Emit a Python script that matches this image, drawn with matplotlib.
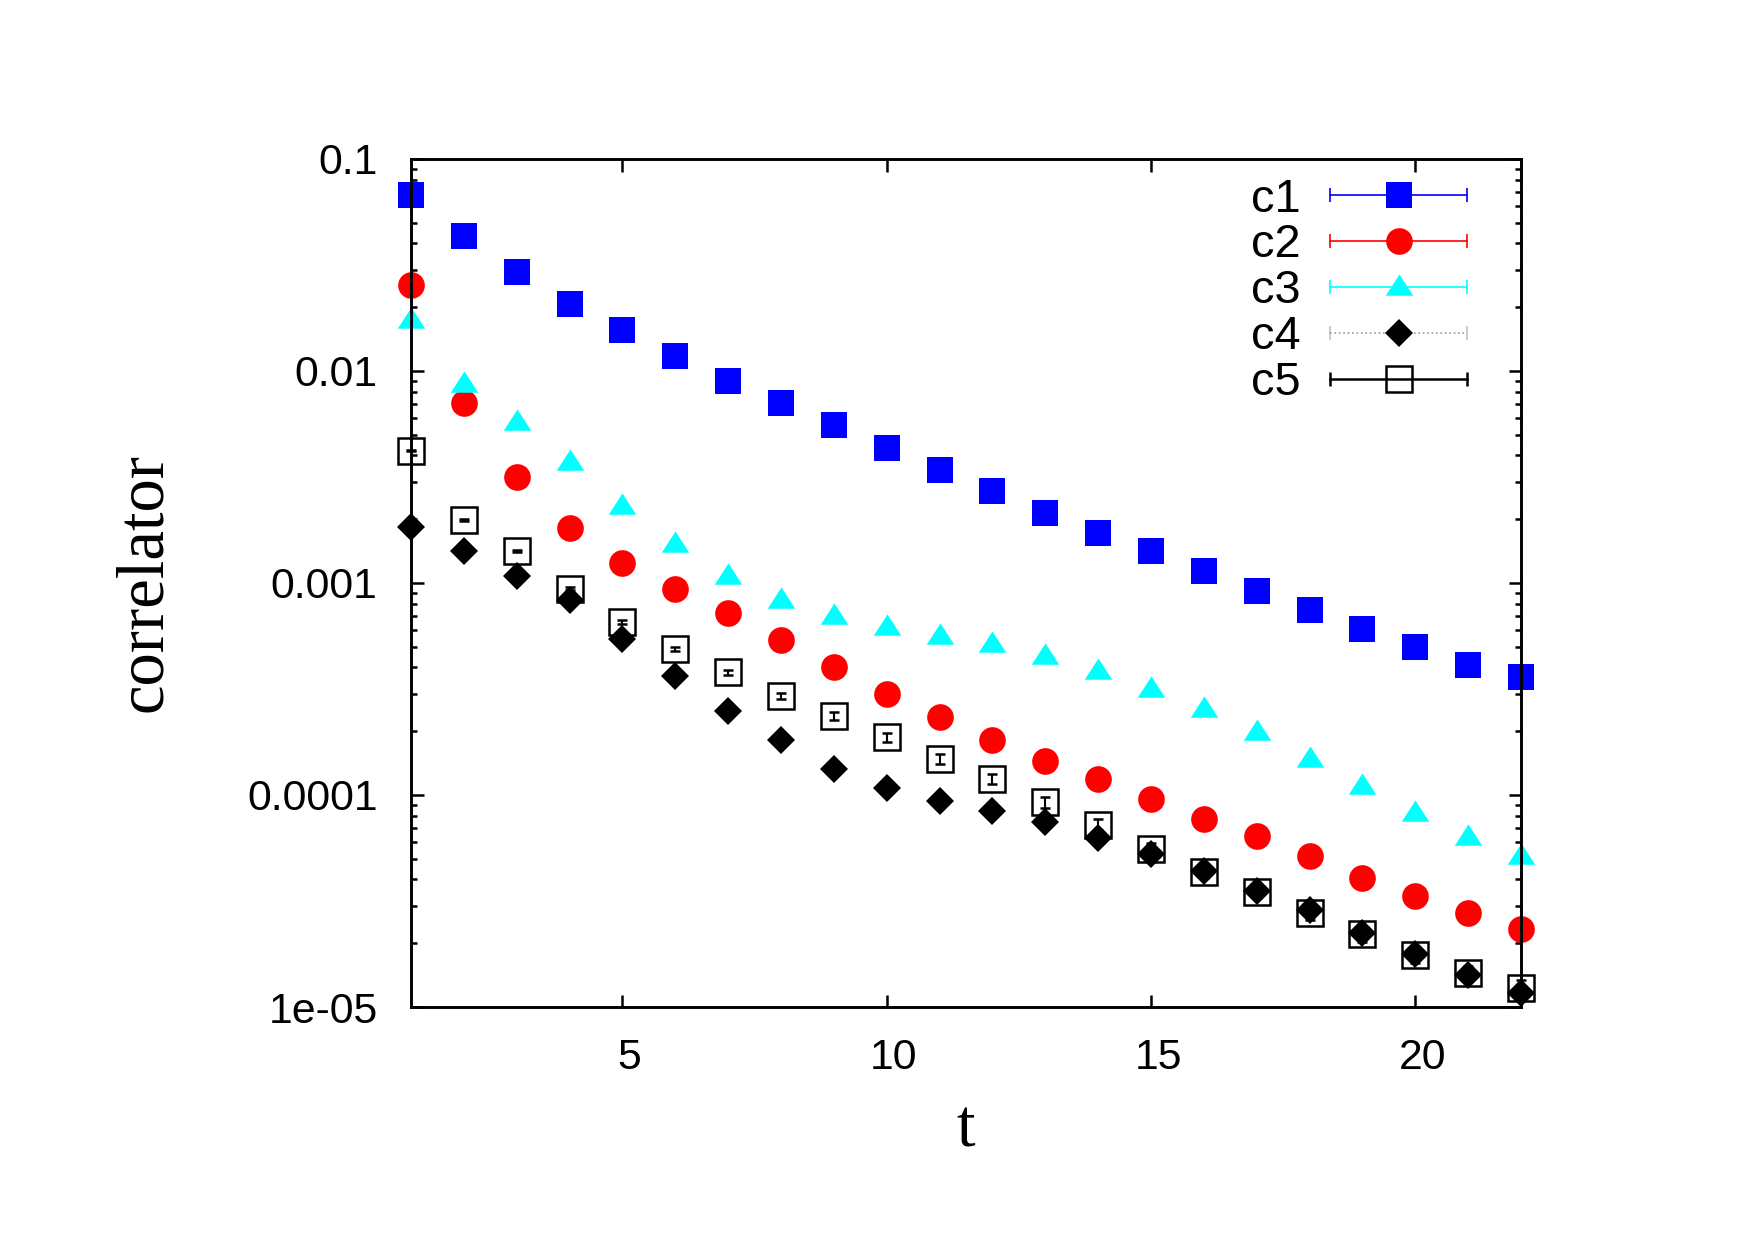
#!/usr/bin/env python3
"""Correlators c1..c5 vs t on a log scale, gnuplot look."""

import matplotlib
matplotlib.use("Agg")
import matplotlib.pyplot as plt
from matplotlib.legend_handler import HandlerBase
from matplotlib.lines import Line2D
from matplotlib.ticker import FixedLocator, FuncFormatter, LogLocator, NullFormatter
from matplotlib.transforms import ScaledTranslation

plt.rcParams.update({
    "font.family": ["Liberation Sans", "DejaVu Sans"],
    "font.size": 20.5,
    "axes.linewidth": 1.4,
})

t = list(range(1, 23))

c1 = [0.0678, 0.0433, 0.0293, 0.0208, 0.0156, 0.0118, 0.00901, 0.00708, 0.00555, 0.00435, 0.00341,
      0.00271, 0.00215, 0.00173, 0.00141, 0.00114, 0.000918, 0.000747, 0.000608, 0.000500, 0.000412, 0.000360]
c2 = [0.0254, 0.00708, 0.00317, 0.00181, 0.00124, 0.000941, 0.000721, 0.000538, 0.000402, 0.000300, 0.000233,
      0.000182, 0.000145, 0.000119, 9.59e-5, 7.71e-5, 6.42e-5, 5.16e-5, 4.04e-5, 3.33e-5, 2.77e-5, 2.34e-5]
c3 = [0.0174, 0.0087, 0.00575, 0.00371, 0.00231, 0.00153, 0.00108, 0.000834, 0.000695, 0.000622, 0.000565,
      0.000513, 0.000454, 0.000383, 0.000315, 0.000254, 0.000199, 0.000148, 0.000110, 8.19e-5, 6.34e-5, 5.16e-5]
c4 = [0.00184, 0.00141, 0.00108, 0.000834, 0.000544, 0.000365, 0.000250, 0.000182, 0.000133, 0.000108, 9.35e-5,
      8.38e-5, 7.42e-5, 6.26e-5, 5.28e-5, 4.40e-5, 3.54e-5, 2.88e-5, 2.23e-5, 1.77e-5, 1.41e-5, 1.16e-5]
c5 = [0.00420, 0.00198, 0.00141, 0.000941, 0.000654, 0.000489, 0.000379, 0.000293, 0.000236, 0.000187, 0.000148,
      0.000119, 9.24e-5, 7.25e-5, 5.55e-5, 4.35e-5, 3.50e-5, 2.77e-5, 2.20e-5, 1.75e-5, 1.44e-5, 1.23e-5]
c5_err = [2.1e-5, 2.0e-5, 1.7e-5, 1.4e-5, 1.3e-5, 1.2e-5, 1.1e-5, 1.0e-5, 9.4e-6, 8.4e-6, 7.4e-6,
          6.0e-6, 5.1e-6, 4.4e-6, 3.6e-6, 3.0e-6, 2.5e-6, 2.1e-6, 1.8e-6, 1.4e-6, 1.2e-6, 1.1e-6]

x_ticks = [5, 10, 15, 20]
y_ticks = [1e-5, 1e-4, 1e-3, 1e-2, 1e-1]

# gnuplot-like flat triangle
TRI = [(-1.0, -0.6), (1.0, -0.6), (0.0, 0.95)]


class HandlerGnuplot(HandlerBase):
    """Legend sample: horizontal bar with end caps and the point in the middle."""

    def create_artists(self, legend, orig_handle, xdescent, ydescent,
                       width, height, fontsize, trans):
        y = height / 2 - ydescent
        x0, x1 = -xdescent, width - xdescent
        color = orig_handle.get_color()
        lw = orig_handle.get_linewidth()
        ls = orig_handle.get_linestyle()
        bar = Line2D([x0, x1], [y, y], color=color, linewidth=lw, linestyle=ls)
        caps = Line2D([x0, x1], [y, y], linestyle="none", marker="|",
                      markersize=6.5, markeredgewidth=lw, color=color,
                      alpha=0.6 if ls == ":" else 1.0)
        mark = Line2D([(x0 + x1) / 2], [y], linestyle="none",
                      marker=orig_handle.get_marker(),
                      markersize=orig_handle.get_markersize(),
                      markerfacecolor=orig_handle.get_markerfacecolor(),
                      markeredgecolor=orig_handle.get_markeredgecolor(),
                      markeredgewidth=orig_handle.get_markeredgewidth())
        for a in (bar, caps, mark):
            a.set_transform(trans)
        return [bar, caps, mark]


fig = plt.figure(figsize=(11.7, 1240 / 150), dpi=150)
ax = fig.add_axes([0.2342, 0.1879, 0.6325, 0.6839])

ax.plot(t, c1, linestyle="none", marker="s", markersize=12.5, color="#0000ff",
        markeredgewidth=0, clip_on=False)
ax.plot(t, c2, linestyle="none", marker="o", markersize=12.8, color="#ff0000",
        markeredgewidth=0, clip_on=False)
ax.plot(t, c3, linestyle="none", marker=TRI, markersize=13.2, color="#00ffff",
        markeredgewidth=0, clip_on=False)
ax.plot(t, c4, linestyle="none", marker="D", markersize=9.2, color="black",
        markeredgewidth=0, clip_on=False)
ax.errorbar(t, c5, yerr=c5_err, fmt="s", markersize=12.5, markerfacecolor="none",
            markeredgecolor="black", markeredgewidth=1.2, ecolor="black",
            elinewidth=1.0, capsize=2.5, capthick=1.0, clip_on=False)

ax.set_yscale("log")
ax.set_xlim(1, 22)
ax.set_ylim(1e-5, 0.1)

ax.xaxis.set_major_locator(FixedLocator(x_ticks))
ax.yaxis.set_major_locator(FixedLocator(y_ticks))
ax.yaxis.set_major_formatter(FuncFormatter(lambda v, _: f"{v:g}"))
ax.yaxis.set_minor_locator(LogLocator(base=10, subs=range(2, 10)))
ax.yaxis.set_minor_formatter(NullFormatter())
ax.tick_params(which="both", direction="in", top=True, right=True, width=1.2)
ax.tick_params(which="major", length=6)
ax.tick_params(which="minor", length=3)
ax.tick_params(axis="y", which="major", pad=16)
ax.tick_params(axis="x", which="major", pad=15)

# gnuplot puts the x labels a few pixels right of the tick
shift = ScaledTranslation(3.4 / 72, 0, fig.dpi_scale_trans)
for tick in ax.xaxis.get_major_ticks():
    tick.label1.set_transform(tick.label1.get_transform() + shift)

ax.set_ylabel("correlator", family=["Liberation Serif", "DejaVu Serif"], fontsize=32)
ax.set_xlabel("t", family=["Liberation Serif", "DejaVu Serif"], fontsize=32)
ax.yaxis.set_label_coords(-0.213, 0.5)
ax.xaxis.set_label_coords(0.5, -0.109)

handles = [
    Line2D([], [], color="#0000ff", linewidth=0.8, marker="s", markersize=12.5,
           markerfacecolor="#0000ff", markeredgecolor="#0000ff", markeredgewidth=0),
    Line2D([], [], color="#ff0000", linewidth=0.8, marker="o", markersize=12.8,
           markerfacecolor="#ff0000", markeredgecolor="#ff0000", markeredgewidth=0),
    Line2D([], [], color="#00ffff", linewidth=0.8, marker=TRI, markersize=13.2,
           markerfacecolor="#00ffff", markeredgecolor="#00ffff", markeredgewidth=0),
    Line2D([], [], color="#999999", linewidth=0.8, linestyle=":", marker="D", markersize=9.2,
           markerfacecolor="black", markeredgecolor="black", markeredgewidth=0),
    Line2D([], [], color="black", linewidth=1.2, marker="s", markersize=12.5,
           markerfacecolor="none", markeredgecolor="black", markeredgewidth=1.2),
]
ax.legend(handles, ["c1", "c2", "c3", "c4", "c5"],
          handler_map={Line2D: HandlerGnuplot()},
          loc="upper right", bbox_to_anchor=(0.9514, 0.978),
          frameon=False, markerfirst=False, borderpad=0, borderaxespad=0,
          handlelength=2.92, handletextpad=0.64, labelspacing=0.04,
          fontsize=22.5)

fig.savefig("out.png", dpi=150)
